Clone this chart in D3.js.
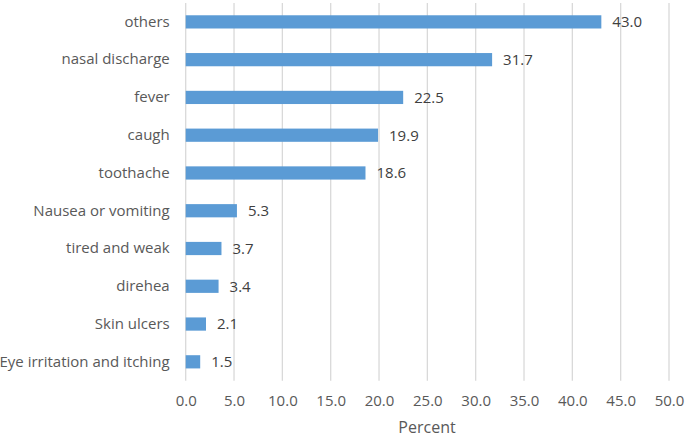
<!DOCTYPE html>
<html><head><meta charset="utf-8">
<script src="https://cdn.jsdelivr.net/npm/d3@7"></script>
<style>body{margin:0;background:#fff;}svg{display:block;}</style>
</head><body>
<svg id="c" width="685" height="437"></svg>
<script>
const categories = ["others","nasal discharge","fever","caugh","toothache","Nausea or vomiting","tired and weak","direhea","Skin ulcers","Eye irritation and itching"];
const values = [43.0,31.7,22.5,19.9,18.6,5.3,3.7,3.4,2.1,1.5];
const xTicks = [0,5,10,15,20,25,30,35,40,45,50];
const xTitle = "Percent";

const svg = d3.select("#c");
const font = "'Open Sans', 'Liberation Sans', sans-serif";
const x = d3.scaleLinear().domain([0,50]).range([185.7,669]);
const y = d3.scaleBand().domain(categories).range([3,380.7]).paddingInner(0.65).paddingOuter(0.325);

svg.append("g").selectAll("line").data(xTicks).join("line")
  .attr("x1",d=>x(d)).attr("x2",d=>x(d)).attr("y1",3).attr("y2",380.7)
  .attr("stroke","#d9d9d9").attr("stroke-width",1.3);

svg.append("g").selectAll("rect").data(values).join("rect")
  .attr("x",x(0)).attr("y",(d,i)=>y(categories[i]))
  .attr("width",d=>x(d)-x(0)).attr("height",y.bandwidth())
  .attr("fill","#5b9bd5");

svg.append("g").selectAll("text").data(values).join("text")
  .attr("x",d=>x(d)+11).attr("y",(d,i)=>y(categories[i])+y.bandwidth()/2)
  .attr("dy","0.36em").attr("font-family",font).attr("font-size",15).attr("fill","#404040")
  .text(d=>d.toFixed(1));

const yAxis = svg.append("g").attr("transform",`translate(${x(0)},0)`)
  .call(d3.axisLeft(y).tickSize(0).tickPadding(16));
yAxis.select(".domain").remove();
yAxis.selectAll("text").attr("font-family",font).attr("font-size",15).attr("fill","#595959");

const xAxis = svg.append("g").attr("transform","translate(0,380.7)")
  .call(d3.axisBottom(x).tickValues(xTicks).tickFormat(d3.format(".1f")).tickSize(0).tickPadding(15));
xAxis.select(".domain").remove();
xAxis.selectAll("text").attr("font-family",font).attr("font-size",15).attr("fill","#595959");

svg.append("text").attr("x",427).attr("y",433).attr("text-anchor","middle")
  .attr("font-family",font).attr("font-size",16).attr("fill","#595959").text(xTitle);
</script>
</body></html>
